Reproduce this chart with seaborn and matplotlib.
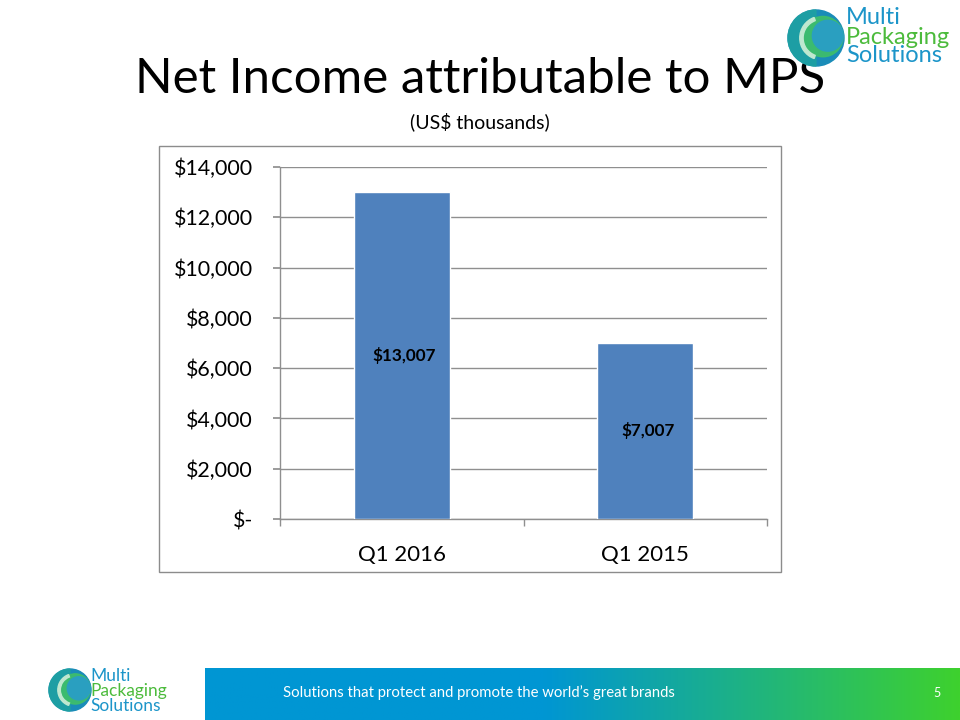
import numpy as np
import pandas as pd
import matplotlib
matplotlib.use("Agg")
import matplotlib.pyplot as plt
import seaborn as sns
from matplotlib.patches import Rectangle, Circle, Wedge
from matplotlib.ticker import FuncFormatter, FixedLocator

categories = ["Q1 2016", "Q1 2015"]
net_income = [13007, 7007]
bar_labels = ["$13,007", "$7,007"]
y_ticks = [0, 2000, 4000, 6000, 8000, 10000, 12000, 14000]
title = "Net Income attributable to MPS"
subtitle = "(US$ thousands)"
footer_text = "Solutions that protect and promote the world\u2019s great brands"
page_num = "5"

sns.set_theme(style="white")
FONT = ["Lato", "DejaVu Sans"]
plt.rcParams["font.family"] = FONT

W, H = 960, 720
fig = plt.figure(figsize=(9.6, 7.2), dpi=100)
fig.patch.set_facecolor("white")

def fx(x):
    return x / W

def fy(y):
    return 1 - y / H

# chart border
fig.patches.append(Rectangle((fx(159), fy(572)), fx(781) - fx(159), fy(146) - fy(572),
                             transform=fig.transFigure, fill=False, edgecolor="#8c8c8c",
                             linewidth=1.0, zorder=0))

ax = fig.add_axes([fx(280), fy(519), fx(767) - fx(280), fy(167) - fy(519)])
df = pd.DataFrame({"cat": categories, "val": net_income})
sns.barplot(data=df, x="cat", y="val", color="#4F81BD", saturation=1, width=0.394,
            ax=ax, zorder=3)
ax.set_xlim(-0.5, 1.5)
ax.set_ylim(0, 14000)
ax.set_xlabel("")
ax.set_ylabel("")
ax.set_facecolor("none")
ax.yaxis.set_major_locator(FixedLocator(y_ticks))
ax.yaxis.set_major_formatter(FuncFormatter(lambda v, p: "$-" if v == 0 else f"${v:,.0f}"))
ax.grid(axis="y", color="#8f8f8f", linewidth=1.0, zorder=0)
ax.set_axisbelow(True)
for s in ["top", "right"]:
    ax.spines[s].set_visible(False)
for s in ["left", "bottom"]:
    ax.spines[s].set_color("#8f8f8f")
    ax.spines[s].set_linewidth(1.0)
ax.tick_params(axis="y", which="major", left=True, length=5, color="#8f8f8f",
               labelsize=15.4, pad=14.5, labelcolor="black")
ax.tick_params(axis="x", which="major", length=0, labelsize=16, pad=19, labelcolor="black")
ax.set_xticks([-0.5, 0.5, 1.5], minor=True)
ax.tick_params(axis="x", which="minor", bottom=True, length=5, color="#8f8f8f")
for i, (v, t) in enumerate(zip(net_income, bar_labels)):
    ax.text(i + 0.01, v / 2, t, ha="center", va="center", fontsize=12.3,
            fontweight="bold", color="black", zorder=5)

# titles
fig.text(fx(480), fy(79), title, ha="center", va="center", fontsize=35.5, color="black")
fig.text(fx(480), fy(122), subtitle, ha="center", va="center", fontsize=14, color="black")

# footer gradient band
bax = fig.add_axes([fx(205), 0, 1 - fx(205), fy(668)])
grad = np.linspace(0, 1, 256)
c0 = np.array([0x00, 0x96, 0xD3]) / 255
c1 = np.array([0x3E, 0xD1, 0x2E]) / 255
t = np.clip((grad - 0.45) / 0.55, 0, 1)
img = (c0[None, :] * (1 - t[:, None]) + c1[None, :] * t[:, None])[None, :, :]
bax.imshow(img, aspect="auto", extent=[0, 1, 0, 1])
bax.set_axis_off()
fig.text(fx(283), fy(693), footer_text, ha="left", va="center", fontsize=10.7, color="white")
fig.text(fx(937), fy(693), page_num, ha="center", va="center", fontsize=9, color="white")

def logo(cx, cy, r, tx, ty0, dy, fs):
    lax = fig.add_axes([0, 0, 1, 1], zorder=10)
    lax.set_xlim(0, W)
    lax.set_ylim(H, 0)
    lax.set_axis_off()
    lax.set_facecolor("none")
    lax.add_patch(Circle((cx, cy), r, color="#1a8cb8"))
    lax.add_patch(Wedge((cx, cy), r, 90, 270, color="#1fa3a0", alpha=0.8))
    lax.add_patch(Circle((cx + r * 0.25, cy - r * 0.05), r * 0.72, color="#3fbf6a", alpha=0.9))
    lax.add_patch(Circle((cx + r * 0.42, cy - r * 0.08), r * 0.55, color="#2a9fc0"))
    lax.add_patch(Wedge((cx + r * 0.2, cy), r * 0.78, 110, 250, width=r * 0.12, color="#bfe8d0"))
    lax.text(tx, ty0, "Multi", fontsize=fs, color="#1c95c9", va="center", ha="left")
    lax.text(tx, ty0 + dy, "Packaging", fontsize=fs, color="#4cbb3c", va="center", ha="left")
    lax.text(tx, ty0 + 2 * dy, "Solutions", fontsize=fs, color="#1c95c9", va="center", ha="left")

logo(816, 38, 28, 846, 18, 19, 17)
logo(70, 690, 21, 90, 676, 15, 12.5)

fig.savefig("out.png", dpi=100)
